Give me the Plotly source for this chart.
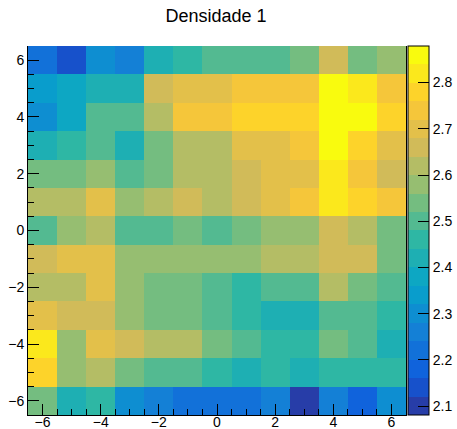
import plotly.graph_objects as go

# bin centres
x_centers = [-6, -5, -4, -3, -2, -1, 0, 1, 2, 3, 4, 5, 6]
y_centers = [6, 5, 4, 3, 2, 1, 0, -1, -2, -3, -4, -5, -6]

# bin contents, rows listed from y=6 (top) to y=-6 (bottom)
row_p6 = [2.22, 2.14, 2.30, 2.26, 2.42, 2.46, 2.50, 2.50, 2.50, 2.54, 2.66, 2.54, 2.58]
row_p5 = [2.34, 2.38, 2.42, 2.42, 2.66, 2.70, 2.70, 2.74, 2.74, 2.74, 2.86, 2.82, 2.74]
row_p4 = [2.30, 2.38, 2.50, 2.50, 2.62, 2.74, 2.74, 2.78, 2.78, 2.78, 2.879, 2.86, 2.78]
row_p3 = [2.42, 2.46, 2.50, 2.42, 2.54, 2.62, 2.62, 2.70, 2.70, 2.74, 2.86, 2.78, 2.70]
row_p2 = [2.54, 2.54, 2.58, 2.50, 2.54, 2.62, 2.62, 2.66, 2.70, 2.70, 2.82, 2.74, 2.66]
row_p1 = [2.62, 2.62, 2.70, 2.58, 2.62, 2.66, 2.62, 2.66, 2.70, 2.74, 2.82, 2.78, 2.74]
row_0 = [2.50, 2.58, 2.62, 2.50, 2.50, 2.54, 2.50, 2.54, 2.58, 2.58, 2.66, 2.62, 2.54]
row_m1 = [2.66, 2.70, 2.70, 2.58, 2.58, 2.58, 2.58, 2.58, 2.62, 2.62, 2.66, 2.66, 2.54]
row_m2 = [2.62, 2.62, 2.70, 2.58, 2.54, 2.54, 2.50, 2.46, 2.50, 2.50, 2.62, 2.54, 2.50]
row_m3 = [2.70, 2.66, 2.66, 2.58, 2.54, 2.54, 2.50, 2.46, 2.42, 2.42, 2.50, 2.50, 2.46]
row_m4 = [2.82, 2.58, 2.70, 2.66, 2.62, 2.62, 2.54, 2.50, 2.46, 2.46, 2.54, 2.50, 2.42]
row_m5 = [2.78, 2.58, 2.62, 2.54, 2.50, 2.50, 2.46, 2.42, 2.46, 2.42, 2.46, 2.46, 2.46]
row_m6 = [2.54, 2.42, 2.46, 2.30, 2.26, 2.22, 2.22, 2.22, 2.26, 2.081, 2.26, 2.18, 2.30]

z_rows = [row_p6, row_p5, row_p4, row_p3, row_p2, row_p1, row_0,
          row_m1, row_m2, row_m3, row_m4, row_m5, row_m6]

axis_ticks = [-6, -4, -2, 0, 2, 4, 6]
cbar_ticks = [2.1, 2.2, 2.3, 2.4, 2.5, 2.6, 2.7, 2.8]

# ROOT kBird palette, 20 contour levels
band_colors = ["#273da8", "#1751cb", "#1063dc", "#1271d9", "#1480d6",
               "#0e8ed1", "#099dcc", "#0da7c3", "#1eafb3", "#2eb7a4",
               "#53ba91", "#74bd80", "#96be71", "#b4bd65", "#d1bb59",
               "#e3c04a", "#f5c63a", "#fdd32a", "#fbe81c", "#f9fb0e"]
n = len(band_colors)
colorscale = []
for k, c in enumerate(band_colors):
    colorscale.append([k / n, c])
    colorscale.append([(k + 1) / n, c])

zmin = min(min(r) for r in z_rows)
zmax = max(max(r) for r in z_rows)

FONT = "Liberation Sans, Arial, Helvetica, sans-serif"

fig = go.Figure(go.Heatmap(
    x=x_centers, y=y_centers, z=z_rows,
    zmin=zmin, zmax=zmax, colorscale=colorscale,
    colorbar=dict(
        x=(408 - 28) / 378, xanchor="left", xpad=0,
        y=0.5, yanchor="middle", ypad=0,
        len=1, lenmode="fraction", thickness=21, thicknessmode="pixels",
        outlinewidth=1, outlinecolor="black",
        tickmode="array", tickvals=cbar_ticks,
        ticks="inside", ticklen=11, tickcolor="black", tickwidth=1,
        tickfont=dict(family=FONT, size=14, color="black"),
    ),
))

axis_common = dict(
    range=[-6.5, 6.5], tickmode="array", tickvals=axis_ticks,
    ticks="inside", ticklen=11, tickwidth=1, tickcolor="black",
    minor=dict(dtick=0.5, tick0=0, ticks="inside", ticklen=6,
               tickcolor="black", tickwidth=1),
    showgrid=False, zeroline=False, showline=True, linecolor="black",
    linewidth=1, tickfont=dict(family=FONT, size=14, color="black"),
    automargin=False,
)

fig.update_layout(
    width=457, height=429,
    margin=dict(l=28, r=51, t=46, b=14, pad=0, autoexpand=False),
    paper_bgcolor="white", plot_bgcolor="white",
    title=dict(text="Densidade 1", x=216 / 457, xref="container", xanchor="center",
               y=1 - 16 / 429, yref="container", yanchor="middle",
               font=dict(family=FONT, size=18, color="black")),
    xaxis=dict(axis_common, mirror=False, ticklabelstandoff=-6),
    yaxis=dict(axis_common, mirror=True),
)

fig.write_html("out.html")
